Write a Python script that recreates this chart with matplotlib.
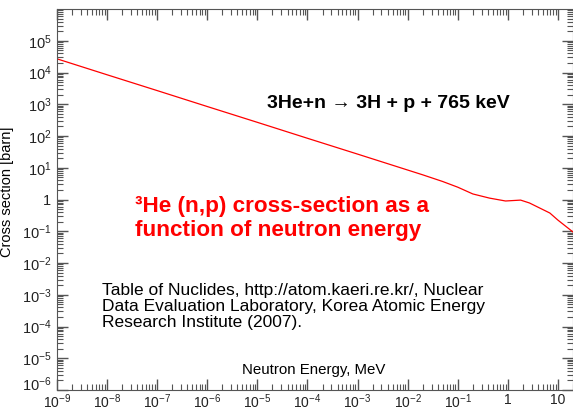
import matplotlib.pyplot as plt
import matplotlib.ticker as mticker
import matplotlib.transforms as mtransforms

plt.rcParams['font.family'] = ['Liberation Sans', 'DejaVu Sans']
plt.rcParams['mathtext.fontset'] = 'custom'
plt.rcParams['mathtext.rm'] = 'Liberation Sans'
plt.rcParams['mathtext.it'] = 'Liberation Sans:italic'
plt.rcParams['mathtext.bf'] = 'Liberation Sans:bold'

# 3He(n,p) cross section
energy = [1e-9, 1e-8, 1e-7, 1e-6, 1e-5, 1e-4, 1e-3, 1e-2, 0.02, 0.05, 0.1,
          0.2, 0.43, 0.9, 1.8, 2.7, 6.9, 10.0, 20.0]
sigma = [2.7e4, 8.5e3, 2.7e3, 850, 270, 85, 27, 8.5, 6.0, 3.7, 2.45,
         1.5, 1.11, 0.90, 0.96, 0.78, 0.376, 0.225, 0.095]

xticks = [1e-9, 1e-8, 1e-7, 1e-6, 1e-5, 1e-4, 1e-3, 1e-2, 1e-1, 1, 10]
xlabels = ['10$^{-9}$', '10$^{-8}$', '10$^{-7}$', '10$^{-6}$', '10$^{-5}$',
           '10$^{-4}$', '10$^{-3}$', '10$^{-2}$', '10$^{-1}$', '1', '10']
yticks = [1e-6, 1e-5, 1e-4, 1e-3, 1e-2, 1e-1, 1, 1e1, 1e2, 1e3, 1e4, 1e5]
ylabels = ['10$^{-6}$', '10$^{-5}$', '10$^{-4}$', '10$^{-3}$', '10$^{-2}$',
           '10$^{-1}$', '1', '10$^{1}$', '10$^{2}$', '10$^{3}$', '10$^{4}$',
           '10$^{5}$']

fig = plt.figure(figsize=(5.73, 4.11), dpi=100)
ax = fig.add_axes([0.0995, 0.051, 0.9005, 0.927])

ax.plot(energy, sigma, color='red', lw=0.9)
ax.set_xscale('log')
ax.set_yscale('log')
ax.set_xlim(1e-9, 20)
ax.set_ylim(1e-6, 1e6)

ax.set_xticks(xticks)
ax.set_xticklabels(xlabels)
ax.set_yticks(yticks)
ax.set_yticklabels(ylabels)
ax.xaxis.set_minor_locator(mticker.LogLocator(base=10, subs=range(2, 10), numticks=30))
ax.yaxis.set_minor_locator(mticker.LogLocator(base=10, subs=range(2, 10), numticks=30))
ax.xaxis.set_minor_formatter(mticker.NullFormatter())
ax.yaxis.set_minor_formatter(mticker.NullFormatter())

ax.tick_params(which='both', direction='in', top=True, right=True,
               color='#555555', labelcolor='#222222')
ax.tick_params(which='major', length=8, width=1)
ax.tick_params(which='minor', length=4, width=0.8)
ax.tick_params(axis='x', pad=2, labelsize=10)
ax.tick_params(axis='y', pad=4, labelsize=10.5)
for s in ax.spines.values():
    s.set_color('#555555')

# lowest y label sits a little above its tick, as in the original
lbl = ax.get_yticklabels()[0]
lbl.set_transform(lbl.get_transform() +
                  mtransforms.ScaledTranslation(0, 5 / 72, fig.dpi_scale_trans))

ax.set_ylabel('Cross section [barn]', fontsize=10.5, labelpad=1)
ax.yaxis.set_label_coords(-0.083, 0.52)

ax.text(0.643, 0.751, '3He+n \u2192 3H + p + 765 keV', transform=ax.transAxes,
        fontsize=14, fontweight='bold', ha='center', va='center')
ax.text(0.151, 0.451, '\u00b3He (n,p) cross-section as a\nfunction of neutron energy',
        transform=ax.transAxes, color='red', fontsize=16.2, fontweight='bold',
        ha='left', va='center', linespacing=1.2)
ax.text(0.087, 0.22,
        'Table of Nuclides, http://atom.kaeri.re.kr/, Nuclear\n'
        'Data Evaluation Laboratory, Korea Atomic Energy\n'
        'Research Institute (2007).',
        transform=ax.transAxes, fontsize=12.5, ha='left', va='center',
        linespacing=1.1)
ax.text(0.497, 0.052, 'Neutron Energy, MeV', transform=ax.transAxes,
        fontsize=10.8, ha='center', va='center')

fig.savefig('out.png', dpi=100)
